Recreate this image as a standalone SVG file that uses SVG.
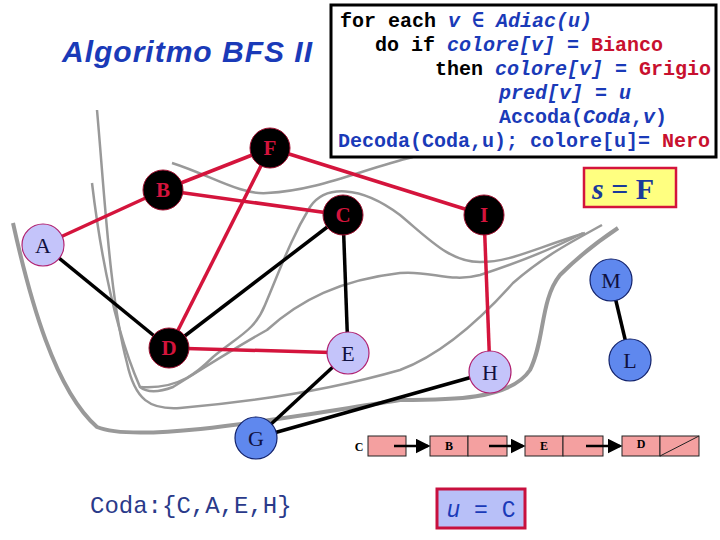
<svg xmlns="http://www.w3.org/2000/svg" width="720" height="540" viewBox="0 0 720 540">
<style>
.w{fill:none;stroke:#999;stroke-width:2.5}
.wt{fill:none;stroke:#999;stroke-width:4}
.r{stroke:#d4143c;stroke-width:3.5}
.k{stroke:#000;stroke-width:3.5}
.nb{fill:#000;stroke:#a01030;stroke-width:1}
.nl{fill:#c4c4fa;stroke:#b02070;stroke-width:1.2}
.nu{fill:#5f88ee;stroke:#10206a;stroke-width:1.2}
.tb{font-family:"Liberation Serif",serif;font-size:21px;fill:#d4143c;text-anchor:middle;font-weight:bold}
.tl{font-family:"Liberation Serif",serif;font-size:22px;fill:#101040;text-anchor:middle}
.code{font-family:"Liberation Mono",monospace;font-size:20px;font-weight:bold}
.bl{fill:#1a3ab8}.rd{fill:#c8102e}
.cell{fill:#f4a0a0;stroke:#222;stroke-width:1}
.lt{font-family:"Liberation Serif",serif;font-size:12px;font-weight:bold;text-anchor:middle}
</style>
<defs><marker id="ah" markerWidth="6" markerHeight="6" refX="5" refY="3" orient="auto"><path d="M0,0L6,3L0,6z" fill="#000"/></marker></defs>
<rect width="720" height="540" fill="#fff"/>
<g id="waves">
<path class="wt" d="M13,223 C30,300 55,390 97,427 C140,445 300,415 400,400 C450,400 510,400 530,370 C545,340 540,300 560,275 C580,255 600,240 618,228"/>
<path class="w" d="M97,110 C105,200 110,300 127,363 C135,400 150,410 180,408 C250,402 330,390 400,370 C440,355 480,320 513,283 C545,255 575,240 602,225"/>
<path class="w" d="M92,183 C100,250 115,330 140,387 C150,395 165,390 173,387 C200,370 240,345 267,330 C300,300 340,280 400,273 C430,270 450,283 480,275 C520,262 560,245 583,233"/>
<path class="w" d="M172,163 C210,175 240,195 267,193 C320,190 360,170 413,157"/>
<path class="w" d="M140,387 C180,390 200,370 213,357 C240,335 255,330 265,305 C280,270 290,240 310,207 C325,185 360,185 400,215 C430,240 450,262 480,262 C510,262 530,250 585,233"/>
</g>
<g id="connectors">
<line class="r" x1="270" y1="148" x2="163" y2="190"/>
<line class="r" x1="270" y1="148" x2="484" y2="215"/>
<line class="r" x1="163" y1="190" x2="43" y2="245"/>
<line class="r" x1="163" y1="190" x2="343" y2="215"/>
<line class="r" x1="270" y1="148" x2="169" y2="348"/>
<line class="r" x1="169" y1="348" x2="348" y2="353"/>
<line class="r" x1="484" y1="215" x2="490" y2="372"/>
<line class="k" x1="43" y1="245" x2="169" y2="348"/>
<line class="k" x1="343" y1="215" x2="169" y2="348"/>
<line class="k" x1="343" y1="215" x2="348" y2="353"/>
<line class="k" x1="348" y1="353" x2="256" y2="438"/>
<line class="k" x1="256" y1="438" x2="490" y2="372"/>
<line class="k" x1="611" y1="280" x2="630" y2="360"/>
</g>
<text x="62" y="62" font-family="Liberation Sans,sans-serif" font-size="30" font-weight="bold" font-style="italic" fill="#1a3ab8" textLength="250">Algoritmo BFS II</text>
<g id="code">
<rect x="331" y="5" width="385" height="152" fill="#fff" stroke="#000" stroke-width="3"/>
<text class="code" x="340" y="27">for each <tspan class="bl" font-style="italic">v ∈ Adiac(u)</tspan></text>
<text class="code" x="375" y="51">do if <tspan class="bl" font-style="italic">colore[v]</tspan><tspan class="bl"> = </tspan><tspan class="rd">Bianco</tspan></text>
<text class="code" x="435" y="75">then <tspan class="bl" font-style="italic">colore[v]</tspan><tspan class="bl"> = </tspan><tspan class="rd">Grigio</tspan></text>
<text class="code bl" x="499" y="99"><tspan font-style="italic">pred[v]</tspan> = <tspan font-style="italic">u</tspan></text>
<text class="code bl" x="499" y="123">Accoda(<tspan font-style="italic">Coda</tspan>,<tspan font-style="italic">v</tspan>)</text>
<text class="code bl" x="338" y="147">Decoda(Coda,u); colore[u]= <tspan class="rd">Nero</tspan></text>
</g>
<g id="s"><rect x="584" y="168" width="92" height="39" fill="#ffff80" stroke="#d4143c" stroke-width="2.5"/>
<text x="592" y="199" font-family="Liberation Serif,serif" font-size="30" font-weight="bold" fill="#1a3a9a"><tspan font-style="italic">s</tspan> = F</text></g>
<g id="F"><circle class="nb" cx="270" cy="148" r="20"/><text class="tb" x="270" y="155">F</text></g>
<g id="B"><circle class="nb" cx="163" cy="190" r="20"/><text class="tb" x="163" y="197">B</text></g>
<g id="C"><circle class="nb" cx="343" cy="215" r="20"/><text class="tb" x="343" y="222">C</text></g>
<g id="I"><circle class="nb" cx="484" cy="215" r="20"/><text class="tb" x="484" y="222">I</text></g>
<g id="D"><circle class="nb" cx="169" cy="348" r="20"/><text class="tb" x="169" y="355">D</text></g>
<g id="A"><circle class="nl" cx="43" cy="245" r="21"/><text class="tl" x="43" y="253">A</text></g>
<g id="E"><circle class="nl" cx="348" cy="353" r="21"/><text class="tl" x="348" y="361">E</text></g>
<g id="H"><circle class="nl" cx="490" cy="372" r="21"/><text class="tl" x="490" y="380">H</text></g>
<g id="G"><circle class="nu" cx="256" cy="438" r="21"/><text class="tl" x="256" y="446">G</text></g>
<g id="M"><circle class="nu" cx="611" cy="280" r="21"/><text class="tl" x="611" y="288">M</text></g>
<g id="L"><circle class="nu" cx="630" cy="360" r="21"/><text class="tl" x="630" y="368">L</text></g>
<g id="list">
<text class="lt" x="359" y="451">C</text>
<rect class="cell" x="368" y="436" width="38" height="20"/>
<rect class="cell" x="430" y="436" width="38" height="20"/><rect class="cell" x="468" y="436" width="39" height="20"/>
<text class="lt" x="449" y="450">B</text>
<rect class="cell" x="525" y="436" width="38" height="20"/><rect class="cell" x="563" y="436" width="40" height="20"/>
<text class="lt" x="544" y="450">E</text>
<rect class="cell" x="622" y="436" width="38" height="20"/><rect class="cell" x="660" y="436" width="39" height="20"/>
<text class="lt" x="641" y="448">D</text>
<line x1="660" y1="456" x2="699" y2="436" stroke="#222"/>
<g stroke="#000" stroke-width="2.5" marker-end="url(#ah)">
<line x1="394" y1="446" x2="428" y2="446"/><line x1="489" y1="446" x2="523" y2="446"/><line x1="586" y1="446" x2="620" y2="446"/>
</g>
</g>
<text x="90" y="513" font-family="Liberation Mono,monospace" font-size="24" fill="#2a3a8a">Coda:{C,A,E,H}</text>
<g id="u"><rect x="437" y="489" width="88" height="39" fill="#b8c0f8" stroke="#c8103e" stroke-width="3"/>
<text x="481" y="517" font-family="Liberation Mono,monospace" font-size="23" fill="#1a3ab8" text-anchor="middle"><tspan font-style="italic">u</tspan> = C</text></g>
</svg>
